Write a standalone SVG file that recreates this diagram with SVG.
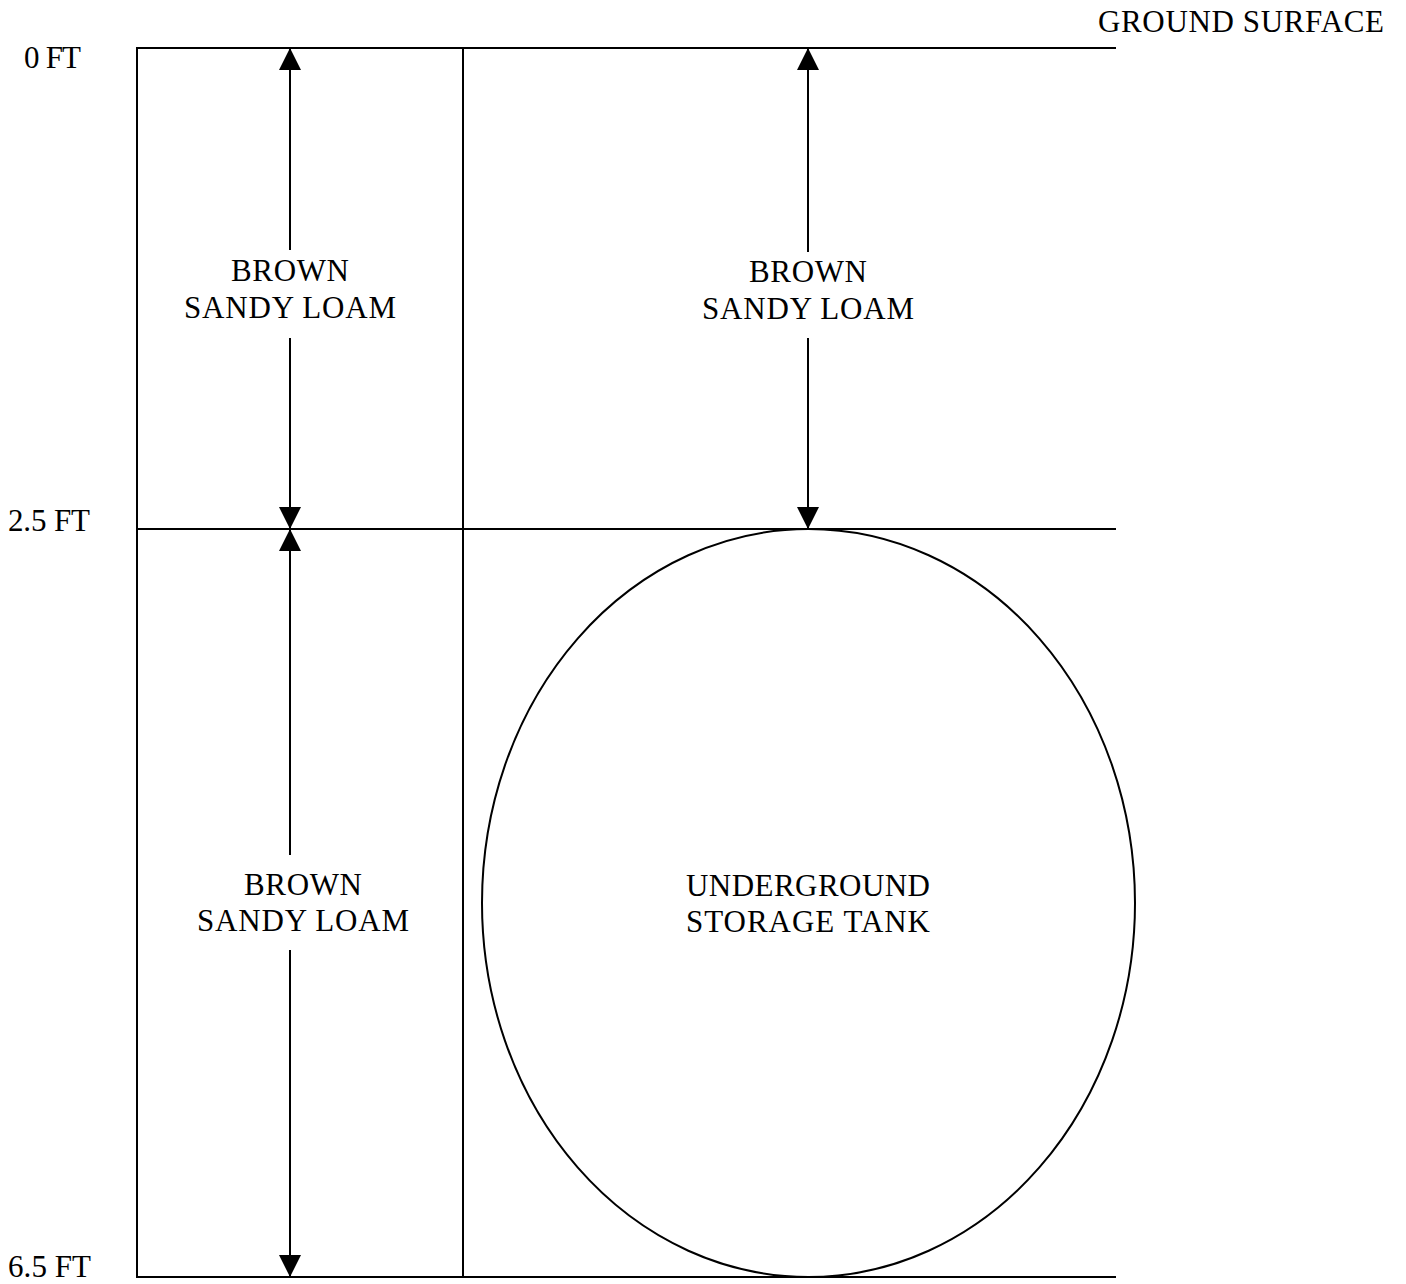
<svg xmlns="http://www.w3.org/2000/svg" width="1406" height="1284" viewBox="0 0 1406 1284">
<style>
.ln{stroke:#000;stroke-width:2;fill:none}
.t{font-family:"Liberation Serif","Times New Roman",serif;font-size:31px;fill:#000}
.c{text-anchor:middle}
</style>
<defs>
<marker id="ah" viewBox="0 0 22 22" refX="22" refY="11" markerWidth="22" markerHeight="22" markerUnits="userSpaceOnUse" orient="auto">
<path d="M0,0 L22,11 L0,22 Z" fill="#000"/>
</marker>
</defs>
<rect width="1406" height="1284" fill="#fff"/>
<g id="frame">
<line class="ln" x1="137" y1="48" x2="1116" y2="48"/>
<line class="ln" x1="137" y1="529" x2="1116" y2="529"/>
<line class="ln" x1="137" y1="1277" x2="1116" y2="1277"/>
<line class="ln" x1="137" y1="47" x2="137" y2="1278"/>
<line class="ln" x1="463" y1="48" x2="463" y2="1277"/>
</g>
<g id="tank">
<ellipse class="ln" cx="808.5" cy="903" rx="326.5" ry="374"/>
<text class="t c" x="808" y="896" textLength="244">UNDERGROUND</text>
<text class="t c" x="808" y="932" textLength="244">STORAGE TANK</text>
</g>
<g id="labels">
<text class="t" x="24" y="68" textLength="57">0 FT</text>
<text class="t" x="8" y="531" textLength="82">2.5 FT</text>
<text class="t" x="8" y="1277" textLength="83">6.5 FT</text>
<text class="t" x="1098" y="32" textLength="286">GROUND SURFACE</text>
</g>
<g id="layer-upper-left">
<text class="t c" x="290" y="281" textLength="118">BROWN</text>
<text class="t c" x="290" y="318" textLength="212">SANDY LOAM</text>
</g>
<g id="layer-upper-right">
<text class="t c" x="808" y="282" textLength="118">BROWN</text>
<text class="t c" x="808" y="319" textLength="212">SANDY LOAM</text>
</g>
<g id="layer-lower-left">
<text class="t c" x="303" y="895" textLength="118">BROWN</text>
<text class="t c" x="303" y="931" textLength="212">SANDY LOAM</text>
</g>
<g id="connectors">
<line class="ln" x1="290" y1="250" x2="290" y2="48" marker-end="url(#ah)"/>
<line class="ln" x1="290" y1="338" x2="290" y2="529" marker-end="url(#ah)"/>
<line class="ln" x1="808" y1="252" x2="808" y2="48" marker-end="url(#ah)"/>
<line class="ln" x1="808" y1="338" x2="808" y2="529" marker-end="url(#ah)"/>
<line class="ln" x1="290" y1="855" x2="290" y2="529" marker-end="url(#ah)"/>
<line class="ln" x1="290" y1="950" x2="290" y2="1277" marker-end="url(#ah)"/>
</g>
</svg>
